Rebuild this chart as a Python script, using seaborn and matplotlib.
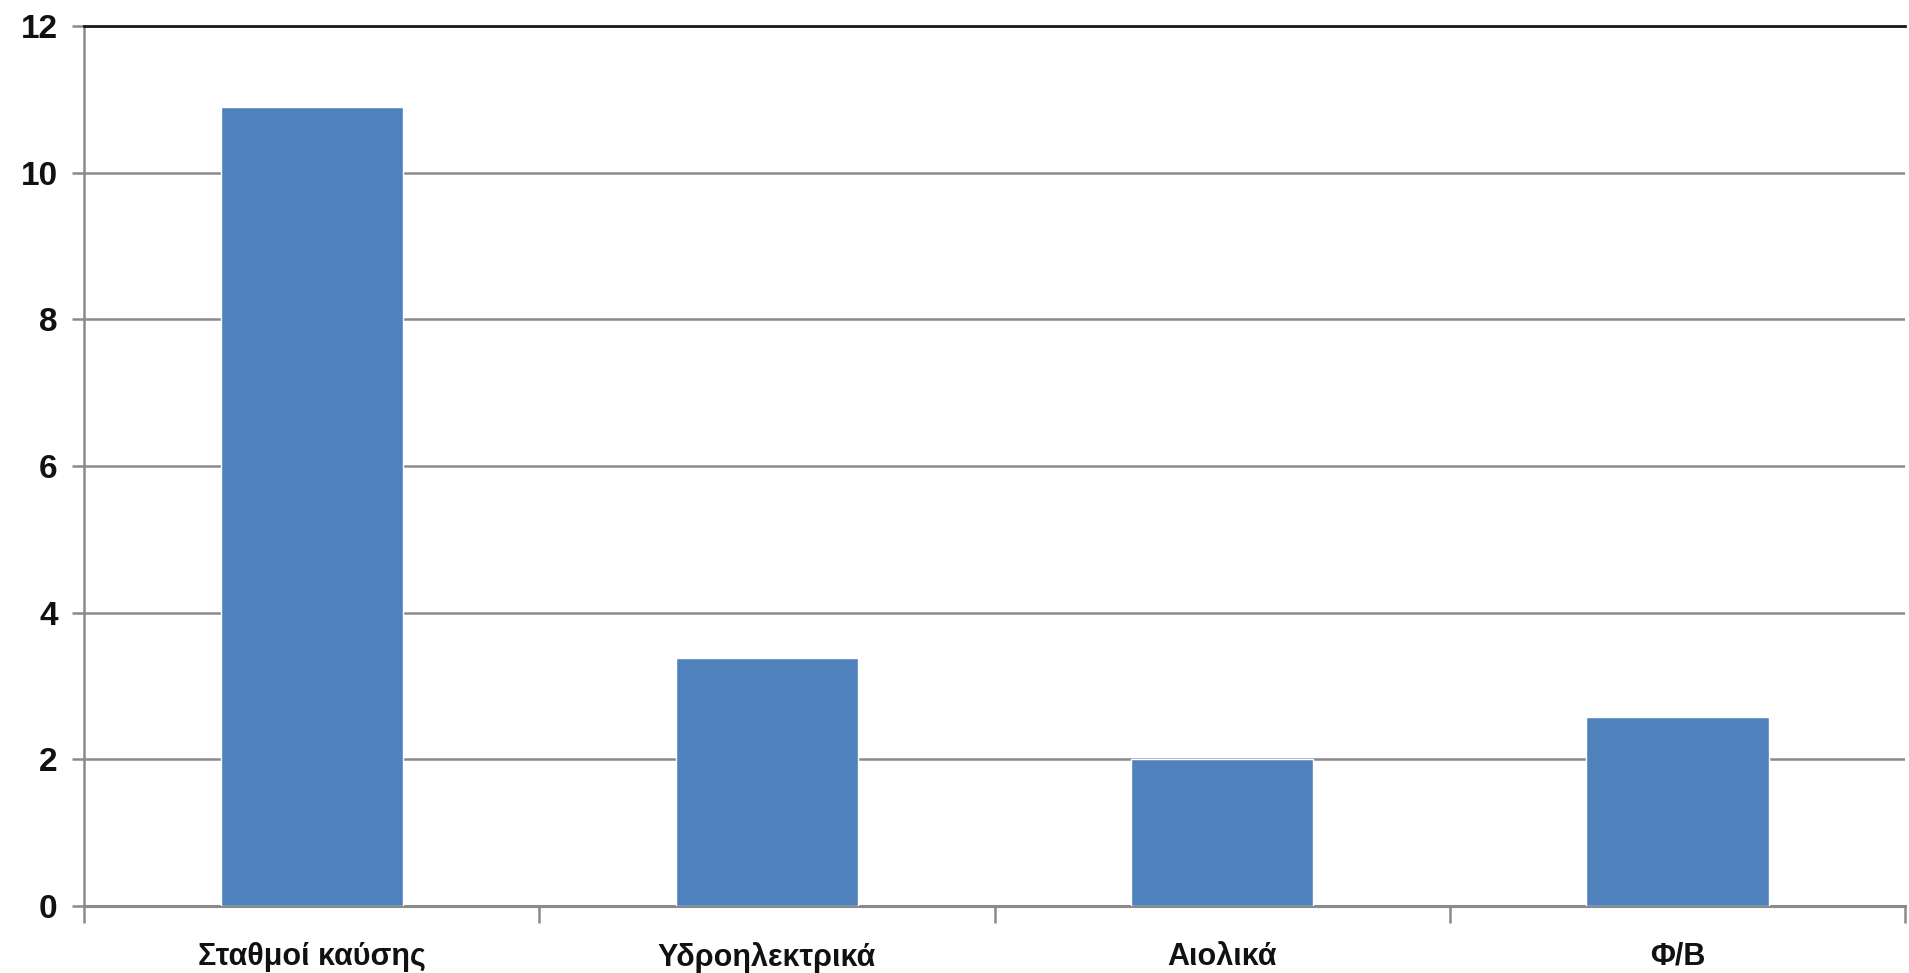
import matplotlib
matplotlib.use("Agg")
import matplotlib.pyplot as plt
import seaborn as sns
import pandas as pd
from matplotlib.ticker import FixedLocator

categories = ["Σταθμοί καύσης", "Υδροηλεκτρικά", "Αιολικά", "Φ/Β"]
values = [10.9, 3.38, 2.0, 2.58]
yticks = [0, 2, 4, 6, 8, 10, 12]

sns.set_theme(style="white")
plt.rcParams['font.family'] = ['Liberation Sans', 'DejaVu Sans']

df = pd.DataFrame({"cat": categories, "val": values})

fig = plt.figure(figsize=(19.09, 9.73), dpi=100)
ax = fig.add_axes([0.044, 0.069, 0.954, 0.904])

sns.barplot(data=df, x="cat", y="val", color="#4F81BD", saturation=1, width=0.4, ax=ax, zorder=3)

ax.set_ylim(0, 12)
ax.set_xlim(-0.5, len(categories) - 0.5)
ax.set_yticks(yticks)
ax.set_yticklabels([str(t) for t in yticks])
ax.yaxis.grid(True, color="#8a8a8a", linewidth=1.8, zorder=0)
ax.set_axisbelow(True)
ax.set_xlabel("")
ax.set_ylabel("")

ax.spines["right"].set_visible(False)
ax.spines["top"].set_color("#1a1a1a")
ax.spines["top"].set_linewidth(2)
ax.spines["left"].set_color("#8a8a8a")
ax.spines["left"].set_linewidth(1.8)
ax.spines["bottom"].set_color("#8a8a8a")
ax.spines["bottom"].set_linewidth(2.2)

ax.tick_params(axis="y", which="major", left=True, length=9, width=1.8, color="#8a8a8a",
               labelsize=24, pad=10, labelcolor="#111111")
ax.tick_params(axis="x", which="major", bottom=False, labelsize=22, pad=20, labelcolor="#111111")
ax.xaxis.set_minor_locator(FixedLocator([i - 0.5 for i in range(len(categories) + 1)]))
ax.tick_params(axis="x", which="minor", bottom=True, length=12, width=1.8, color="#8a8a8a")
for lbl in ax.get_xticklabels() + ax.get_yticklabels():
    lbl.set_fontweight("bold")

fig.savefig("out.png", dpi=100)
